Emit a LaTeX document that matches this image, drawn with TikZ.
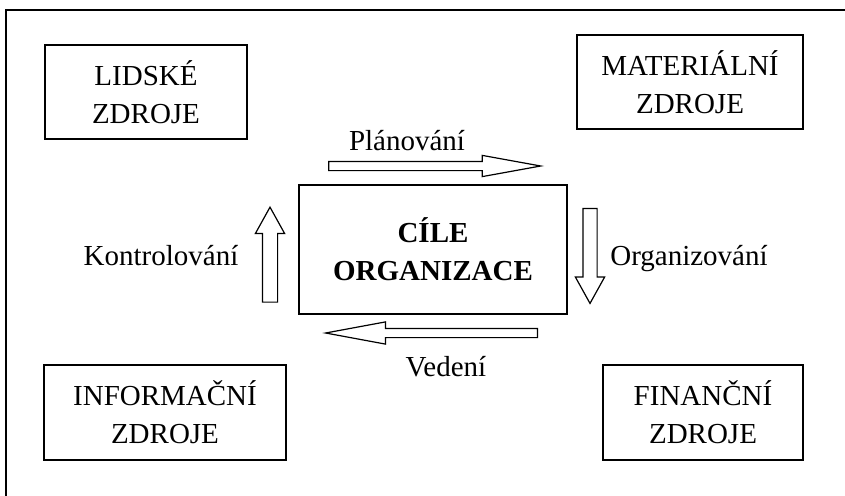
\documentclass[tikz,border=0pt]{standalone}
\usepackage{fontspec}
\setmainfont{Liberation Serif}
\usetikzlibrary{positioning}
\usetikzlibrary{shapes.arrows}

\begin{document}
\begin{tikzpicture}[x=1pt,y=-1pt,
	zdroj/.style={rectangle, draw=black, line width=1.6pt, inner sep=0pt, align=center, font=\fontsize{29}{38}\selectfont},
	cil/.style={zdroj, font=\fontsize{29}{38}\selectfont\bfseries},
	sipka/.style={single arrow, draw=black, line width=1.2pt, single arrow head indent=0pt},
	popis/.style={anchor=base, inner sep=0pt, font=\fontsize{29}{38}\selectfont}]
	\useasboundingbox (0,0) rectangle (845,495);
	\draw[line width=1.6pt] (850,10) -- (6,10) -- (6,500);
	% zdroje
	\node[zdroj, minimum width=202pt, minimum height=94pt] (lidske) at (146,92) {LIDSKÉ\\ZDROJE};
	\node[zdroj, minimum width=226pt, minimum height=94pt] (materialni) at (690,82) {MATERIÁLNÍ\\ZDROJE};
	\node[zdroj, minimum width=242pt, minimum height=95pt] (informacni) at (165,412.5) {INFORMAČNÍ\\ZDROJE};
	\node[zdroj, minimum width=200pt, minimum height=95pt] (financni) at (703,412.5) {FINANČNÍ\\ZDROJE};
	\node[cil, minimum width=268pt, minimum height=129pt] (cile) at (433,249.5) {CÍLE\\ORGANIZACE};
	% funkce
	\node[sipka, minimum height=212pt, inner xsep=0pt, inner ysep=4pt, single arrow head extend=6pt, single arrow tip angle=20.6] (planovani) at (422,166) {};
	\node[sipka, minimum height=95pt, inner ysep=0pt, inner xsep=7pt, single arrow head extend=7pt, single arrow tip angle=58, shape border rotate=90] (kontrolovani) at (270,261.5) {};
	\node[sipka, minimum height=95pt, inner ysep=0pt, inner xsep=6.5pt, single arrow head extend=7.5pt, single arrow tip angle=58, shape border rotate=270] (organizovani) at (590,249.5) {};
	\node[sipka, minimum height=212pt, inner xsep=0pt, inner ysep=4pt, single arrow head extend=6.5pt, single arrow tip angle=21, shape border rotate=180] (vedeni) at (444,333) {};
	\node[popis] (tplanovani) at (407,150) {Plánování};
	\node[popis] (tkontrolovani) at (161,265) {Kontrolování};
	\node[popis] (torganizovani) at (689,265) {Organizování};
	\node[popis] (tvedeni) at (446,376) {Vedení};
\end{tikzpicture}
\end{document}
